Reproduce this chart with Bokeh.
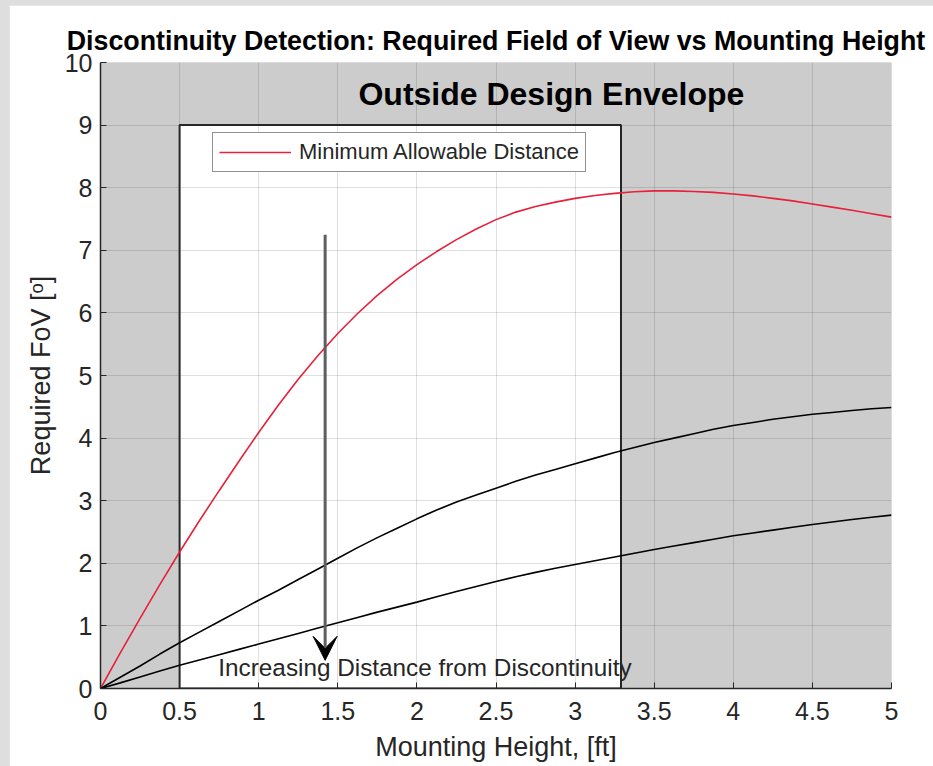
from bokeh.plotting import figure
from bokeh.models import Arrow, VeeHead, Label, FixedTicker, Legend, LegendItem
from bokeh.layouts import column
from bokeh.embed import file_html
from bokeh.resources import INLINE

# ---------------- data ----------------
mount_height = [0, 0.125, 0.25, 0.375, 0.5, 0.625, 0.75, 0.875, 1.0, 1.125, 1.25,
                1.375, 1.5, 1.625, 1.75, 1.875, 2.0, 2.125, 2.25, 2.375, 2.5,
                2.625, 2.75, 2.875, 3.0, 3.125, 3.25, 3.375, 3.5, 3.625, 3.75,
                3.875, 4.0, 4.125, 4.25, 4.375, 4.5, 4.625, 4.75, 4.875, 5.0]
fov_min_dist = [0, 0.57, 1.12, 1.66, 2.18, 2.68, 3.16, 3.63, 4.09, 4.53, 4.94,
                5.32, 5.67, 5.99, 6.28, 6.54, 6.77, 6.98, 7.17, 7.34, 7.49,
                7.61, 7.70, 7.77, 7.83, 7.875, 7.91, 7.935, 7.95, 7.95, 7.94,
                7.925, 7.90, 7.87, 7.83, 7.79, 7.74, 7.69, 7.64, 7.585, 7.53]
fov_mid_dist = [0, 0.18, 0.36, 0.55, 0.73, 0.90, 1.07, 1.24, 1.41, 1.57, 1.74,
                1.91, 2.08, 2.25, 2.41, 2.56, 2.71, 2.85, 2.98, 3.09, 3.20,
                3.31, 3.41, 3.50, 3.59, 3.68, 3.77, 3.85, 3.93, 4.00, 4.07,
                4.14, 4.20, 4.25, 4.30, 4.34, 4.38, 4.41, 4.44, 4.47, 4.49]
fov_far_dist = [0, 0.09, 0.185, 0.28, 0.37, 0.455, 0.54, 0.625, 0.71, 0.795, 0.88,
                0.965, 1.05, 1.135, 1.22, 1.30, 1.38, 1.465, 1.55, 1.63, 1.71,
                1.785, 1.855, 1.92, 1.98, 2.04, 2.10, 2.16, 2.22, 2.275, 2.33,
                2.385, 2.44, 2.485, 2.53, 2.575, 2.62, 2.66, 2.70, 2.735, 2.77]

x_ticks = [0, 0.5, 1, 1.5, 2, 2.5, 3, 3.5, 4, 4.5, 5]
x_tick_labels = ["0", "0.5", "1", "1.5", "2", "2.5", "3", "3.5", "4", "4.5", "5"]
y_ticks = [0, 1, 2, 3, 4, 5, 6, 7, 8, 9, 10]

envelope_x = [0.5, 3.29]
envelope_y = [0, 9]

arrow_x = 1.42
arrow_y = [7.25, 0.45]

FONT = "Liberation Sans"
DARK = "#262626"

p = figure(width=924, height=761, x_range=(0, 5), y_range=(0, 10),
           output_backend="svg", toolbar_location=None,
           min_border_left=91, min_border_right=42, min_border_top=57,
           min_border_bottom=78)
p.margin = (5, 0, 0, 9)
p.background_fill_color = "#cccccc"
p.border_fill_color = "white"
p.outline_line_color = None

# title
p.title.text = "Discontinuity Detection: Required Field of View vs Mounting Height"
p.title.text_font = FONT
p.title.text_font_size = "26.8px"
p.title.text_font_style = "bold"
p.title.text_color = "black"
p.title.align = "center"
p.title.standoff = 13

# design envelope (white window)
p.quad(left=envelope_x[0], right=envelope_x[1], bottom=envelope_y[0], top=envelope_y[1],
       fill_color="white", line_color=DARK, line_width=2, level="underlay")

# grid above the patches
for g in (p.xgrid, p.ygrid):
    g.grid_line_color = DARK
    g.grid_line_alpha = 0.15
    g.grid_line_width = 1
    g.level = "glyph"
p.xgrid.ticker = FixedTicker(ticks=x_ticks)
p.ygrid.ticker = FixedTicker(ticks=y_ticks)

# curves
r_red = p.line(mount_height, fov_min_dist, line_color="#e8203a", line_width=1.6)
p.line(mount_height, fov_mid_dist, line_color="black", line_width=1.6)
p.line(mount_height, fov_far_dist, line_color="black", line_width=1.6)

# axes
p.xaxis.ticker = FixedTicker(ticks=x_ticks)
p.xaxis.major_label_overrides = {t: l for t, l in zip(x_ticks, x_tick_labels)}
p.yaxis.ticker = FixedTicker(ticks=y_ticks)
for ax in (p.xaxis, p.yaxis):
    ax.axis_line_color = DARK
    ax.axis_line_width = 1.5
    ax.major_tick_in = 6
    ax.major_tick_out = 0
    ax.major_tick_line_color = DARK
    ax.minor_tick_line_color = None
    ax.major_label_text_font = FONT
    ax.major_label_text_font_size = "25px"
    ax.major_label_text_color = DARK
    ax.major_label_standoff = 8
    ax.axis_label_text_font = FONT
    ax.axis_label_text_font_size = "27px"
    ax.axis_label_text_font_style = "normal"
    ax.axis_label_text_color = DARK
    ax.axis_label_standoff = 6
p.xaxis.major_label_standoff = 13
p.xaxis.axis_label_standoff = 9
p.xaxis.axis_label = "Mounting Height, [ft]"
p.yaxis.axis_label = "Required FoV [ᵒ]"

# annotations
p.add_layout(Label(x=2.85, y=9.5, text="Outside Design Envelope", text_font=FONT,
                   text_font_size="32px", text_font_style="bold", text_color="black",
                   text_align="center", text_baseline="middle"))
p.add_layout(Label(x=0.745, y=0.33, text="Increasing Distance from Discontinuity",
                   text_font=FONT, text_font_size="24.3px", text_color=DARK,
                   text_align="left", text_baseline="middle"))
p.add_layout(Arrow(end=VeeHead(size=24, fill_color="black", line_color="black"),
                   x_start=arrow_x, y_start=arrow_y[0], x_end=arrow_x, y_end=arrow_y[1],
                   line_color="#5f5f5f", line_width=3))

legend = Legend(items=[LegendItem(label="Minimum Allowable Distance", renderers=[r_red])],
                location=(112, 516))
legend.label_text_font = FONT
legend.label_text_font_size = "22px"
legend.label_text_color = DARK
legend.glyph_width = 72
legend.glyph_height = 20
legend.label_height = 20
legend.label_standoff = 8
legend.padding = 6
legend.margin = 0
legend.spacing = 0
legend.border_line_color = DARK
legend.border_line_width = 1
legend.background_fill_color = "white"
legend.background_fill_alpha = 1
p.add_layout(legend, "center")

layout = column(p, styles={"background-color": "#dedede"})
open("out.html", "w").write(file_html(layout, INLINE))
